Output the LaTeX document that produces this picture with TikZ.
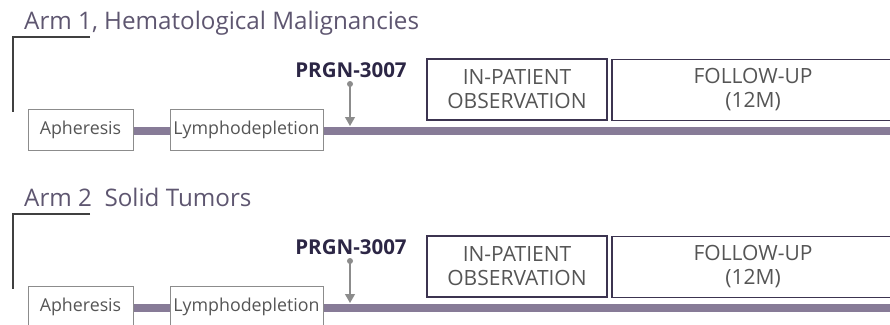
\documentclass[tikz,border=0pt]{standalone}
\usepackage{fontspec}
\setmainfont{Open Sans}
\usepackage{xcolor}
\usetikzlibrary{arrows.meta,positioning}

\definecolor{barpurple}{HTML}{877B97}
\definecolor{boxgrey}{HTML}{8C8C8C}
\definecolor{boxdark}{HTML}{3C3450}
\definecolor{titlecol}{HTML}{5E5670}
\definecolor{textgrey}{HTML}{555555}
\definecolor{dosecol}{HTML}{2C2645}

\begin{document}
\begin{tikzpicture}[
  x=1pt, y=-1pt,
  stage/.style={draw=boxgrey, line width=1pt, inner sep=0pt, text=textgrey, font=\fontsize{17.8}{20}\selectfont, minimum height=41pt},
  phase/.style={draw=boxdark, line width=1.6pt, inner sep=0pt, align=center, text=textgrey, font=\fontsize{21}{24}\selectfont, minimum height=61pt},
  bar/.style={barpurple, line width=8pt},
  dose/.style={text=dosecol, font=\fontsize{20.5}{24}\selectfont\bfseries},
  inj/.style={boxgrey, line width=1.2pt, -{Triangle[width=10pt,length=9pt]}},
  title/.style={text=titlecol, font=\fontsize{24.2}{28}\selectfont, anchor=base west, inner sep=0pt}
]
  \useasboundingbox (0,0) rectangle (890,324);

  \foreach \n/\off/\arm in {1/0/{Arm 1, Hematological Malignancies},2/177/{Arm 2\ \ Solid Tumors}}{
    \begin{scope}[yshift=-\off pt]
      \node[title] (title\n) at (24,29) {\arm};
      \draw[black!75, line width=1.3pt] (90,37) -- (13,37) -- (13,112);

      \node[stage, minimum width=105pt] (aph\n) at (80.5,129.5) {Apheresis};
      \node[stage, minimum width=153pt] (lym\n) at (246.5,129.5) {Lymphodepletion};
      \node[phase, minimum width=180pt] (inpat\n) at (517,89.5) {IN-PATIENT\\OBSERVATION};
      \node[phase, minimum width=282pt] (follow\n) at (753,90) {FOLLOW-UP\\(12M)};

      \coordinate (end\n) at (892,131);
      \draw[bar] (aph\n.east |- 0,131) -- (lym\n.west |- 0,131);
      \draw[bar] (lym\n.east |- end\n) -- (end\n);

      \node[dose] (prgn\n) at (351,70) {PRGN-3007};
      \coordinate (dot\n) at (350,84);
      \coordinate (hit\n) at (350,126);
      \fill[boxgrey] (dot\n) circle (3pt);
      \draw[inj] (dot\n) -- (hit\n);
    \end{scope}
  }
\end{tikzpicture}
\end{document}
